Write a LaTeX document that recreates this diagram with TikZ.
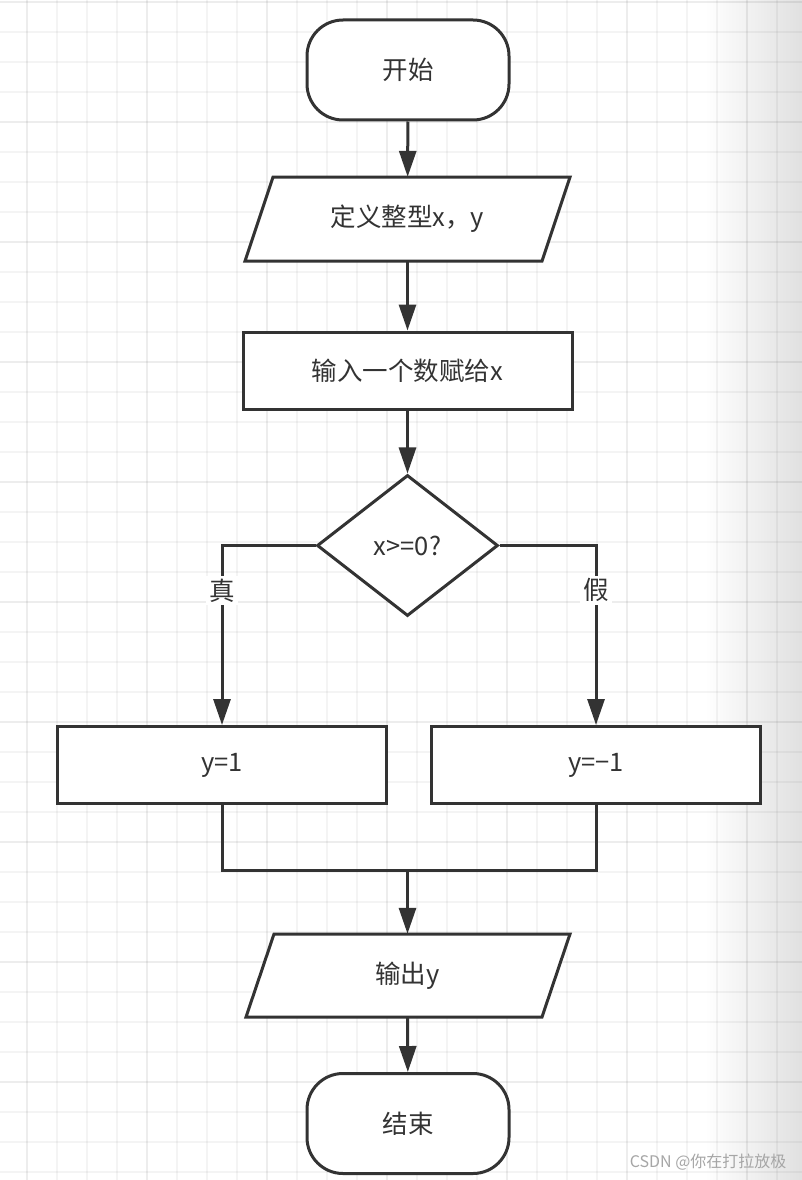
\documentclass[tikz,border=0pt]{standalone}
\usepackage{fontspec}
\setmainfont{Noto Sans CJK SC}
\usetikzlibrary{shapes.geometric,arrows.meta}
\definecolor{ink}{HTML}{333333}
\begin{document}
\begin{tikzpicture}[x=1pt,y=-1pt,
  txt/.style={text=ink, font=\fontsize{25.5}{29}\selectfont, inner sep=0pt},
  base/.style={txt, draw=ink, line width=3pt, fill=white},
  term/.style={base, rectangle, rounded corners=36pt, minimum width=202pt, minimum height=100pt},
  proc/.style={base, rectangle, minimum width=329pt, minimum height=77pt},
  ioshape/.style={draw=ink, line width=3pt, fill=white, line join=miter},
  iotext/.style={txt, minimum width=297pt, minimum height=84pt},
  decide/.style={base, diamond, minimum width=181pt, minimum height=141pt},
  flow/.style={draw=ink, line width=3pt, -{Triangle[length=26pt,width=17pt]}},
  link/.style={draw=ink, line width=3pt},
  lbl/.style={txt, fill=white, inner sep=3pt},
  gminor/.style={draw=black, opacity=0.045, line width=1.6pt},
  gmajor/.style={draw=black, opacity=0.07, line width=2pt}]
\useasboundingbox (0,0) rectangle (802,1180);
\fill[white] (0,0) rectangle (802,1180);
\shade[left color=white, right color=black!12] (705,0) rectangle (802,1180);
% grid
\foreach \x in {57,87,117,177,207,237,297,327,357,417,447,477,537,567,597,657,687,717,777}
  \draw[gminor] (\x,0) -- (\x,1180);
\foreach \y in {32,62,92,152,182,212,272,302,332,392,422,452,512,542,572,632,662,692,752,782,812,872,902,932,992,1022,1052,1112,1142,1172}
  \draw[gminor] (0,\y) -- (802,\y);
\foreach \x in {27,147,267,387,507,627,747}
  \draw[gmajor] (\x,0) -- (\x,1180);
\foreach \y in {2,122,242,362,482,602,722,842,962,1082}
  \draw[gmajor] (0,\y) -- (802,\y);
% parallelogram outlines
\path[ioshape] (273,177) -- (570,177) -- (542,261) -- (245,261) -- cycle;
\path[ioshape] (274,934) -- (570,934) -- (542,1017) -- (246,1017) -- cycle;
% nodes
\node[term] (start) at (408,70) {开始};
\node[iotext] (def) at (407.5,219) {定义整型x，y};
\node[proc] (inp) at (407.5,370.5) {输入一个数赋给x};
\node[decide] (dec) at (407.5,545.5) {x>=0?};
\node[proc] (yes) at (222,765) {y=1};
\node[proc] (no) at (596,765) {y=−1};
\node[iotext, minimum height=83pt] (out) at (407.5,975.5) {输出y};
\node[term] (end) at (408,1123.5) {结束};
\coordinate (m) at (407.5,870);
% connectors
\draw[flow] (start) -- (def);
\draw[flow] (def) -- (inp);
\draw[flow] (inp) -- (dec);
\draw[flow] (dec.west) -| node[lbl, pos=0.625] {真} (yes.north);
\draw[flow] (dec.east) -| node[lbl, pos=0.625] {假} (no.north);
\draw[link] (yes.south) |- (m) -| (no.south);
\draw[flow] (m) -- (out.north);
\draw[flow] (out) -- (end);
% watermark
\node[text=black!35, font=\fontsize{16}{18}\selectfont, anchor=east] (wm) at (790,1162) {CSDN @你在打拉放极};
\end{tikzpicture}
\end{document}
